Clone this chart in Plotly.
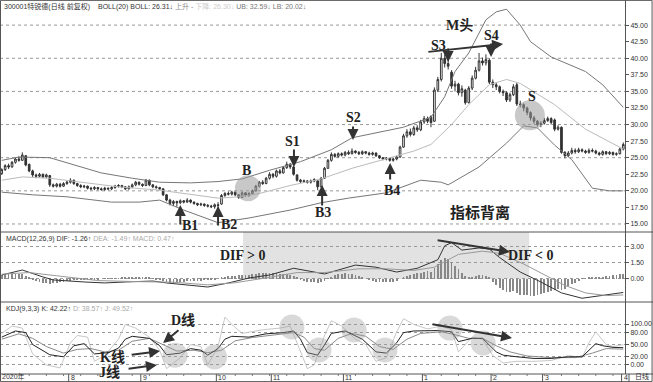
import plotly.graph_objects as go

# ---------------- data ----------------
opens = [
22.6,23.2,23.8,23.6,24.3,24.8,24.6,25.3,24.0,23.0,
22.4,22.2,22.5,22.1,22.3,20.9,20.7,21.0,20.7,21.1,
21.3,21.6,21.1,20.8,20.6,20.7,20.4,20.3,20.5,20.3,
20.2,20.4,20.3,20.5,20.7,20.8,20.6,20.3,20.6,20.9,
21.3,21.0,20.8,21.6,20.9,20.6,20.5,20.3,19.4,18.6,
18.1,18.4,18.2,18.5,18.3,18.6,18.3,18.1,17.9,18.0,
17.8,17.7,17.6,17.9,18.0,19.3,19.6,19.5,19.8,19.4,
19.0,19.7,19.3,19.6,20.0,20.7,21.3,21.1,21.9,22.5,
22.2,23.0,22.7,23.5,24.0,23.6,22.4,21.6,21.4,21.5,
21.3,21.5,21.5,20.6,21.9,23.4,24.6,25.5,25.2,25.6,
25.4,25.8,25.6,26.0,25.8,25.6,25.9,25.7,25.5,25.7,
25.3,25.0,24.8,24.9,24.6,24.8,25.1,26.6,28.3,28.9,
28.5,29.5,29.2,30.4,30.9,31.2,30.5,35.2,36.8,40.0,
39.2,37.9,35.8,36.1,34.8,35.2,33.3,35.5,37.0,38.2,
39.6,39.3,39.7,36.4,36.0,35.7,35.0,34.8,33.7,34.5,
36.0,33.1,33.0,32.5,31.8,31.0,30.5,30.0,30.2,30.6,
30.9,30.7,29.3,29.6,25.8,25.3,25.7,26.1,25.9,26.2,
26.0,25.8,26.1,26.0,25.7,25.5,25.9,25.6,25.8,25.5,
25.6,26.3]
closes = [
23.2,23.8,23.6,24.3,24.8,24.6,25.4,23.9,23.0,22.4,
22.2,22.5,22.1,22.4,20.9,20.7,21.0,20.7,21.1,21.3,
21.6,21.1,20.8,20.6,20.7,20.4,20.3,20.5,20.3,20.2,
20.4,20.3,20.5,20.7,20.8,20.6,20.3,20.6,20.9,21.3,
21.0,20.8,21.6,20.9,20.6,20.5,20.3,19.4,18.6,18.1,
18.4,18.2,18.5,18.3,18.6,18.3,18.1,17.9,18.0,17.8,
17.7,17.6,17.9,17.8,19.3,19.6,19.5,19.8,19.4,19.0,
19.7,19.3,19.6,20.0,20.7,21.3,21.1,21.9,22.5,22.2,
23.0,22.7,23.5,24.0,23.6,22.5,21.6,21.4,21.5,21.3,
21.5,21.7,20.6,21.9,23.4,24.6,25.5,25.2,25.6,25.4,
25.8,25.6,26.0,25.8,25.6,25.9,25.7,25.5,25.7,25.3,
25.0,24.8,24.9,24.6,24.8,25.1,26.6,28.3,28.9,28.5,
29.5,29.2,30.4,30.9,30.5,30.3,35.2,36.8,40.0,39.2,
38.8,35.8,36.1,34.8,35.4,33.3,35.5,37.0,38.2,39.6,
39.3,39.8,36.4,36.0,35.7,35.0,34.8,33.7,34.5,35.7,
33.1,33.0,32.5,31.8,31.0,30.5,30.0,30.2,30.6,30.9,
30.3,29.3,29.6,25.8,25.3,25.7,26.1,25.9,26.2,26.0,
25.8,26.1,26.0,25.7,25.5,25.9,25.6,25.8,25.5,25.6,
26.3,27.0]
highs = [
23.4,24.0,24.1,24.5,25.0,25.2,25.8,25.4,24.1,23.2,
22.6,22.7,22.6,22.6,22.4,21.1,21.2,21.2,21.3,21.5,
21.9,21.7,21.2,21.0,20.9,20.8,20.6,20.7,20.6,20.5,
20.6,20.5,20.7,20.9,21.0,20.9,20.7,20.8,21.1,21.5,
21.4,21.1,21.8,21.7,21.0,20.8,20.6,20.4,19.5,18.8,
18.6,18.5,18.7,18.6,18.9,18.7,18.4,18.2,18.2,18.1,
18.0,17.9,18.1,18.3,19.5,19.8,19.9,20.0,19.9,19.5,
19.9,19.8,19.8,20.2,20.9,21.5,21.6,22.1,22.8,22.7,
23.2,23.3,23.7,24.4,24.2,23.8,22.5,21.8,21.7,21.6,
21.7,21.9,21.6,22.1,23.6,24.8,25.8,25.7,25.8,25.8,
26.0,26.1,26.4,26.1,26.0,26.1,26.0,25.9,25.9,25.8,
25.4,25.1,25.1,25.0,25.0,25.3,26.8,28.6,29.3,29.4,
29.8,29.9,30.7,31.3,31.2,31.4,35.6,37.2,40.8,40.6,
39.8,38.2,36.6,36.3,35.9,35.4,35.8,37.4,38.7,40.8,
40.1,40.6,40.0,36.8,36.3,35.9,35.3,35.0,34.8,36.1,
36.3,33.6,33.2,32.7,32.0,31.3,30.7,30.5,31.0,31.2,
31.1,30.9,29.9,29.7,26.0,26.0,26.5,26.4,26.5,26.4,
26.2,26.4,26.4,26.2,25.9,26.1,26.0,26.0,25.9,25.8,
26.5,27.3]
lows = [
22.4,23.0,23.3,23.5,24.1,24.4,24.5,23.7,22.8,22.1,
21.9,22.0,21.9,21.9,20.6,20.5,20.5,20.5,20.6,20.9,
21.1,20.9,20.6,20.4,20.4,20.2,20.1,20.1,20.1,20.0,
20.0,20.1,20.1,20.3,20.5,20.4,20.1,20.2,20.4,20.7,
20.8,20.6,20.7,20.7,20.4,20.3,20.1,19.2,18.4,17.8,
17.7,17.6,18.0,18.1,18.2,18.1,17.9,17.7,17.7,17.6,
17.5,17.4,17.3,17.3,17.9,19.1,19.3,19.3,19.2,18.8,
18.9,19.1,19.1,19.4,19.9,20.5,20.9,21.0,21.7,21.9,
22.0,22.5,22.6,23.3,23.3,22.3,21.4,21.2,21.2,21.1,
21.1,21.3,20.1,20.5,21.8,23.3,24.4,25.0,25.0,25.2,
25.2,25.4,25.5,25.6,25.4,25.4,25.5,25.3,25.3,25.1,
24.8,24.6,24.6,24.4,24.4,24.6,25.0,26.5,28.0,28.2,
28.3,28.9,29.0,30.1,30.2,29.6,30.4,34.9,36.5,38.6,
38.3,35.4,35.0,34.4,34.2,33.0,33.2,35.2,36.8,38.0,
38.9,38.9,36.1,35.5,35.2,34.7,34.3,33.4,33.4,34.3,
32.8,32.6,32.0,31.4,30.6,30.1,29.7,29.6,30.0,30.4,
30.0,29.0,29.1,25.6,24.9,25.1,25.5,25.6,25.7,25.8,
25.6,25.6,25.8,25.5,25.3,25.3,25.4,25.4,25.3,25.3,
25.5,26.1]

# Bollinger bands (read at sparse days)
ub_day = [0,5,14,21,29,38,46,55,63,70,78,87,96,102,110,117,125,129,132,136,141,144,147,151,154,160,170,175,181]
ub_val = [24.6,25.1,25.0,23.9,22.7,21.9,21.3,21.2,21.4,21.8,23.1,24.4,26.2,28.0,28.8,29.6,31.1,34.2,38.0,40.8,45.8,47.0,47.4,45.0,42.5,40.2,38.0,36.0,32.6]
mb_day = [0,6,14,24,34,46,55,63,69,75,84,93,102,113,120,125,131,136,142,147,151,161,170,181]
mb_val = [21.6,22.1,21.9,21.3,20.6,20.1,19.5,18.9,19.1,19.6,20.8,21.8,23.4,25.0,26.0,27.0,30.0,33.0,36.0,36.8,36.2,33.0,29.3,26.3]
lb_day = [0,9,19,32,40,46,53,63,72,84,93,101,112,122,128,130,139,147,152,156,161,166,172,177,181]
lb_val = [19.8,19.4,19.1,18.3,18.3,18.6,17.1,15.2,15.9,17.1,18.2,18.9,19.7,21.6,21.3,20.9,23.6,27.2,29.8,29.5,26.9,24.7,20.4,20.0,20.0]

# MACD
macd_hist = [
0.35,0.4,0.45,0.5,0.5,0.45,0.45,0.3,
0.1,-0.1,-0.2,-0.3,-0.35,
-0.4,-0.45,-0.4,-0.35,-0.3,-0.25,-0.2,-0.15,
-0.1,-0.1,-0.08,-0.05,-0.05,-0.05,-0.03,-0.02,0.0,0.02,0.03,0.05,0.05,
0.08,0.1,0.15,0.2,0.2,0.22,0.2,0.18,0.15,0.1,0.05,
-0.05,-0.1,-0.2,-0.3,-0.35,-0.35,-0.3,-0.25,-0.25,-0.2,-0.2,-0.2,-0.18,-0.15,-0.12,-0.1,-0.1,-0.08,
0.0,0.1,0.2,0.25,0.3,0.3,0.35,0.35,0.35,0.4,
0.45,0.5,0.55,0.55,0.6,0.6,0.6,0.55,0.5,0.5,0.45,0.4,0.3,
0.1,-0.1,-0.2,-0.3,-0.3,-0.3,-0.35,-0.3,-0.15,0.05,
0.2,0.35,0.45,0.5,0.55,0.5,0.45,0.4,0.3,
0.15,0.0,-0.1,-0.2,-0.25,-0.3,-0.3,-0.3,-0.3,-0.25,-0.2,
0.0,0.15,0.3,0.4,0.5,0.55,0.6,0.7,0.75,0.7,
1.0,1.4,1.8,2.0,1.9,1.6,
1.2,0.9,0.6,0.3,0.2,0.2,0.3,0.35,0.35,0.3,0.1,
-0.3,-0.6,-0.8,-1.0,-1.2,-1.2,-1.1,-1.3,-1.5,-1.5,-1.5,-1.6,-1.6,-1.5,-1.4,
-1.3,-1.2,-1.1,-1.0,-0.9,-1.0,-0.9,-0.7,-0.5,-0.35,-0.2,
0.02,0.05,0.1,0.12,0.15,0.18,0.2,0.25,0.3,0.33,0.38,0.42,0.47]
dif_day = [0,6,12,15,24,30,36,44,48,60,66,72,78,85,91,94,103,109,115,121,127,129,131,134,139,142,145,151,157,163,169,175,181]
dif_val = [0.37,0.84,0.19,-0.09,-0.28,-0.37,-0.28,-0.19,-0.37,-0.75,-0.37,0.09,0.37,1.0,0.65,0.47,1.3,1.1,0.65,1.0,1.8,3.1,3.4,2.7,2.9,2.8,2.0,0.65,-0.28,-1.3,-1.8,-1.5,-1.26]
dea_day = [0,8,16,28,40,50,60,68,76,86,94,104,112,120,126,133,140,145,152,158,164,170,176,181]
dea_val = [0.45,0.6,0.3,-0.15,-0.25,-0.3,-0.55,-0.35,0.05,0.6,0.6,0.95,0.95,0.8,1.1,2.3,2.6,2.4,1.4,0.4,-0.6,-1.3,-1.55,-1.49]

# KDJ
k_day = [0,4,7,9,14,18,21,24,27,31,34,36,38,43,46,48,52,55,58,60,63,65,67,72,77,82,85,87,89,92,94,96,100,103,105,109,112,115,117,120,124,127,131,133,137,140,144,146,150,155,160,165,169,173,175,178,181]
k_val = [68,83,79,50,25,20,47,52,27,30,41,63,70,65,47,25,29,40,36,24,40,63,70,68,76,79,83,63,30,24,49,77,83,72,63,32,29,54,79,83,83,84,81,57,65,65,32,24,20,16,16,20,20,52,47,43,42.2]
d_day = [0,5,9,13,18,22,26,30,34,38,43,47,51,56,60,64,68,73,80,85,88,91,94,98,102,106,110,114,118,122,128,132,136,140,144,148,153,160,167,172,176,181]
d_val = [63,76,65,45,29,38,40,32,36,58,65,50,34,36,30,36,59,67,74,79,68,40,36,65,77,70,45,38,63,77,81,74,65,65,47,32,22,18,18,29,40,38.6]
j_day = [0,3,6,9,13,17,20,22,25,27,30,34,36,39,43,46,48,52,55,58,60,63,65,67,70,76,81,84,86,89,91,94,96,99,103,106,109,112,115,117,120,124,128,131,133,137,140,143,146,150,155,160,165,169,171,173,176,178,181]
j_val = [77,95,90,27,0,-7,54,72,68,9,23,63,99,90,68,36,-9,18,50,45,0,45,117,99,77,86,90,95,54,-9,0,72,108,95,63,50,9,18,81,113,99,88,95,86,32,68,63,23,5,9,9,11,23,18,54,81,50,45,49.5]

# axis labels
month_day = [20, 41, 63, 79, 100, 123, 143, 158, 181]
month_txt = ["8", "9", "10", "11", "11", "1", "2", "3", "4"]
price_ticks = [15, 17.5, 20, 22.5, 25, 27.5, 30, 32.5, 35, 37.5, 40, 42.5, 45]
price_grid = [15, 20, 25, 30, 35, 40, 45]
macd_ticks = [0, 1.5, 3]
kdj_ticks = [0, 20, 50, 80, 100]

# ---------------- layout geometry ----------------
W, H = 653, 382
RM, BM = 28, 8
PH = H - BM  # plot height in px


def fy(py):
    return (PH - py) / PH


XR = W / (W - RM)
days = list(range(len(closes)))
DARK = '#333333'

fig = go.Figure()
fig.add_trace(go.Candlestick(
    x=days, open=opens, high=highs, low=lows, close=closes,
    increasing=dict(line=dict(color=DARK, width=1), fillcolor='white'),
    decreasing=dict(line=dict(color=DARK, width=1), fillcolor=DARK),
    whiskerwidth=0, xaxis='x', yaxis='y', showlegend=False, hoverinfo='skip'))
fig.add_trace(go.Scatter(x=ub_day, y=ub_val, mode='lines', line=dict(color='#777', width=1), xaxis='x', yaxis='y'))
fig.add_trace(go.Scatter(x=mb_day, y=mb_val, mode='lines', line=dict(color='#bbb', width=1), xaxis='x', yaxis='y'))
fig.add_trace(go.Scatter(x=lb_day, y=lb_val, mode='lines', line=dict(color='#777', width=1), xaxis='x', yaxis='y'))

fig.add_trace(go.Bar(x=days, y=macd_hist, width=0.24, marker=dict(color='#888', line=dict(width=0)), xaxis='x2', yaxis='y2'))
fig.add_trace(go.Scatter(x=dif_day, y=dif_val, mode='lines', line=dict(color='#333', width=1), xaxis='x2', yaxis='y2'))
fig.add_trace(go.Scatter(x=dea_day, y=dea_val, mode='lines', line=dict(color='#999', width=1), xaxis='x2', yaxis='y2'))

fig.add_trace(go.Scatter(x=j_day, y=j_val, mode='lines', line=dict(color='#c8c8c8', width=1), xaxis='x3', yaxis='y3'))
fig.add_trace(go.Scatter(x=d_day, y=d_val, mode='lines', line=dict(color='#8a8a8a', width=1), xaxis='x3', yaxis='y3'))
fig.add_trace(go.Scatter(x=k_day, y=k_val, mode='lines', line=dict(color='#222', width=1), xaxis='x3', yaxis='y3'))

xr = [-0.5, 181.5]
tickfont = dict(family='Liberation Sans, Arial', size=7, color='#333')
common_x = dict(range=xr, showgrid=False, zeroline=False, showticklabels=False, showline=False, fixedrange=True)
common_y = dict(side='right', showline=True, linecolor='#555', linewidth=1, ticks='outside', ticklen=3,
                tickcolor='#555', tickfont=tickfont, zeroline=False, fixedrange=True)

fig.update_layout(
    width=W, height=H, margin=dict(l=0, r=RM, t=0, b=BM),
    paper_bgcolor='white', plot_bgcolor='white', showlegend=False, bargap=0,
    xaxis=dict(domain=[0, 1], anchor='y', rangeslider=dict(visible=False), **common_x),
    xaxis2=dict(domain=[0, 1], anchor='y2', matches='x', **common_x),
    xaxis3=dict(domain=[0, 1], anchor='y3', matches='x', **common_x),
    yaxis=dict(domain=[fy(232), 1], range=[13.79, 48.79], tickvals=price_ticks,
               ticktext=['%.2f' % v for v in price_ticks], showgrid=False, **common_y),
    yaxis2=dict(domain=[fy(302), fy(232)], range=[-2.15, 4.39], tickvals=macd_ticks,
                ticktext=['%.2f' % v for v in macd_ticks], showgrid=True, gridcolor='#999',
                griddash='dot', gridwidth=1, **common_y),
    yaxis3=dict(domain=[0, fy(302)], range=[-22, 153.7], tickvals=kdj_ticks,
                ticktext=['%.2f' % v for v in kdj_ticks], showgrid=True, gridcolor='#999',
                griddash='dot', gridwidth=1, **common_y),
)

shapes = []
for g in price_grid:
    shapes.append(dict(type='line', xref='paper', yref='y', x0=0, x1=1, y0=g, y1=g,
                       line=dict(color='#999', width=1, dash='dot'), layer='below'))
# MACD shaded zone (DIF > 0)
shapes.append(dict(type='rect', xref='x2', yref='y2', x0=70.3, x1=153.6, y0=0, y1=4.39,
                   fillcolor='#e2e2e2', line=dict(width=0), layer='below'))
# panel separators / frame
for py in (232, 302):
    shapes.append(dict(type='line', xref='paper', yref='paper', x0=0, x1=XR, y0=fy(py), y1=fy(py),
                       line=dict(color='#555', width=1)))
shapes.append(dict(type='line', xref='paper', yref='paper', x0=0, x1=XR, y0=0, y1=0,
                   line=dict(color='#555', width=1)))
shapes.append(dict(type='rect', xref='paper', yref='paper', x0=0.0008, x1=XR - 0.0015, y0=-BM / PH + 0.001, y1=0.999,
                   line=dict(color='#555', width=1)))
# month ticks on time axis
for d in month_day:
    shapes.append(dict(type='line', xref='x3', yref='paper', x0=d - 0.5, x1=d - 0.5, y0=0, y1=-BM / PH,
                       line=dict(color='#555', width=1)))
for d in range(3, 182, 5):
    shapes.append(dict(type='line', xref='x3', yref='paper', x0=d, x1=d, y0=0, y1=-2 / PH,
                       line=dict(color='#777', width=1)))
# box around the period label
shapes.append(dict(type='line', xref='paper', yref='paper', x0=1 + 4 / (W - RM), x1=1 + 4 / (W - RM),
                   y0=0, y1=-BM / PH, line=dict(color='#555', width=1)))


def circ(xref, yref, cx, cy, r, op=0.55):
    return dict(type='circle', xref=xref, yref=yref, xsizemode='pixel', ysizemode='pixel',
                xanchor=cx, yanchor=cy, x0=-r, x1=r, y0=-r, y1=r,
                fillcolor='#9a9a9a', opacity=op, line=dict(width=0), layer='above')


shapes.append(circ('x', 'y', 71.7, 20.4, 13))
shapes.append(circ('x', 'y', 153.8, 31.4, 15))
for cx, cy in [(50.5, 24), (62, 19.5), (84.5, 92.7), (92.4, 36.6), (102.6, 85.4), (111.6, 36.6), (130.5, 90), (140.2, 53.7)]:
    shapes.append(circ('x3', 'y3', cx, cy, 12.5, 0.38))
fig.update_layout(shapes=shapes)

ann = []
SERIF = 'Liberation Serif, Noto Sans CJK SC'


def label(xref, yref, x, y, text, size=14):
    ann.append(dict(xref=xref, yref=yref, x=x, y=y, text='<b>%s</b>' % text, showarrow=False,
                    font=dict(family=SERIF, size=size, color='#222'), xanchor='center', yanchor='middle'))


def arrow(xref, yref, tx, ty, hx, hy, w=2):
    ann.append(dict(xref=xref, yref=yref, axref=xref, ayref=yref, x=hx, y=hy, ax=tx, ay=ty, text='',
                    showarrow=True, arrowhead=2, arrowsize=1.1, arrowwidth=w, arrowcolor='#333'))


for t, x, y in [('B1', 54.8, 14.7), ('B2', 66.2, 14.85), ('B', 71.4, 23.0), ('S1', 84.8, 27.37),
                ('B3', 93.6, 16.66), ('S2', 102.3, 30.99), ('B4', 113.7, 19.98), ('S3', 127.1, 42.0),
                ('M头', 133.2, 45.0), ('S4', 142.5, 43.5), ('S', 154.4, 34.16)]:
    label('x', 'y', x, y, t)
label('x', 'y', 139.3, 16.8, '指标背离', 15)
for tx, ty, hx, hy in [(52.0, 14.7, 52.0, 17.87), (63.0, 14.55, 63.0, 17.71), (85.1, 26.46, 85.1, 23.6),
                       (93.3, 17.56, 93.3, 20.88), (102.3, 29.93, 102.3, 27.67), (113.1, 21.49, 113.1, 24.2),
                       (130.0, 41.7, 130.0, 39.43), (142.5, 42.45, 142.5, 40.19), (123.8, 40.94, 146.0, 42.15)]:
    arrow('x', 'y', tx, ty, hx, hy)

label('x2', 'y2', 70.3, 2.2, 'DIF &gt; 0', 14)
label('x2', 'y2', 154.1, 2.2, 'DIF &lt; 0', 14)
arrow('x2', 'y2', 126.5, 3.64, 148.0, 2.52)

label('x3', 'y3', 52.8, 109.8, 'D线', 14)
label('x3', 'y3', 32.4, 19.5, 'K线', 14)
label('x3', 'y3', 31.5, -17.1, 'J线', 14)
arrow('x3', 'y3', 51.9, 87.8, 47.0, 53.7)
arrow('x3', 'y3', 37.4, 24.4, 46.1, 34.1)
arrow('x3', 'y3', 36.5, -9.8, 45.2, 0)
arrow('x3', 'y3', 125.0, 100, 148.6, 65.9)

HF = dict(family='Liberation Sans, Noto Sans CJK SC', size=7, color='#333')
ann.append(dict(xref='paper', yref='paper', x=0.003, y=1.0, xanchor='left', yanchor='top', showarrow=False,
                font=HF, text='300001特锐德(日线 前复权)'))
ann.append(dict(xref='paper', yref='paper', x=96 / (W - RM), y=1.0, xanchor='left', yanchor='top', showarrow=False,
                font=HF, text='BOLL(20) BOLL: 26.31↓ <span style="color:#888">上升 - </span>'
                              '<span style="color:#ccc">下降: 26.30↓</span> <span style="color:#777">UB: 32.59↓ LB: 20.02↓</span>'))
ann.append(dict(xref='paper', yref='paper', x=0.006, y=fy(233), xanchor='left', yanchor='top', showarrow=False,
                font=HF, text='MACD(12,26,9) DIF: -1.26↑ <span style="color:#aaa">DEA: -1.49↑ MACD: 0.47↑</span>'))
ann.append(dict(xref='paper', yref='paper', x=0.006, y=fy(303), xanchor='left', yanchor='top', showarrow=False,
                font=HF, text='KDJ(9,3,3) K: 42.22↑ <span style="color:#aaa">D: 38.57↑ J: 49.52↑</span>'))
BOT = -BM / PH
ann.append(dict(xref='paper', yref='paper', x=0.002, y=BOT, xanchor='left', yanchor='bottom', showarrow=False,
                font=HF, text='2020年', borderpad=0, yshift=0))
for d, t in zip(month_day, month_txt):
    ann.append(dict(xref='x3', yref='paper', x=d - 0.2, y=BOT, xanchor='left', yanchor='bottom', showarrow=False,
                    font=HF, text=t, borderpad=0, yshift=0))
ann.append(dict(xref='paper', yref='paper', x=(W - 3) / (W - RM), y=BOT, xanchor='right', yanchor='bottom',
                showarrow=False, font=HF, text='日线', borderpad=0, yshift=0))
fig.update_layout(annotations=ann)

fig.write_html("out.html")
